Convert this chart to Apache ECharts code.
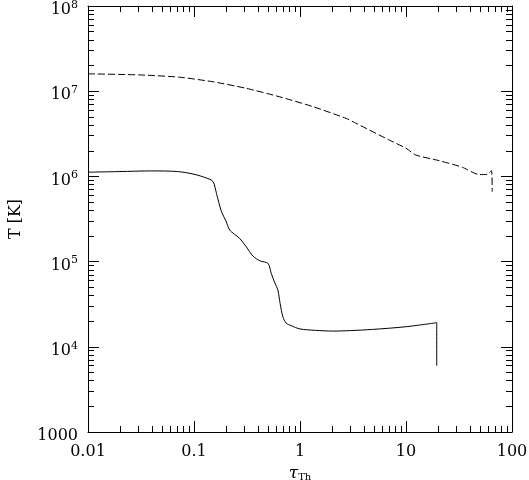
<!DOCTYPE html>
<html>
<head>
<meta charset="utf-8">
<script src="https://cdn.jsdelivr.net/npm/echarts@6/dist/echarts.min.js"></script>
<style>
  html, body { margin: 0; padding: 0; background: #fff; }
  #main { width: 529px; height: 480px; }
</style>
</head>
<body>
<div id="main"></div>
<script>
// lower curve (solid)
var solidTau = [0.01, 0.02, 0.04, 0.07, 0.1, 0.13, 0.151, 0.163, 0.181, 0.2, 0.217, 0.24, 0.27, 0.31, 0.36, 0.42, 0.5, 0.535, 0.58, 0.618, 0.65, 0.689, 0.74, 0.826, 1.0, 1.4, 2.04, 3, 4.84, 10, 19.5, 19.5];
var solidT = [1.12e6, 1.14e6, 1.16e6, 1.14e6, 1.06e6, 9.6e5, 8.7e5, 6.3e5, 3.9e5, 3.0e5, 2.35e5, 2.1e5, 1.87e5, 1.5e5, 1.16e5, 1.02e5, 9.5e4, 7.3e4, 5.6e4, 4.65e4, 3.2e4, 2.25e4, 1.9e4, 1.77e4, 1.62e4, 1.56e4, 1.53e4, 1.55e4, 1.6e4, 1.72e4, 1.92e4, 6000];
// upper curve (dashed)
var dashTau = [0.01, 0.032, 0.073, 0.151, 0.312, 0.641, 1.32, 2.72, 3.38, 6.95, 10, 12.4, 20.6, 34, 48.9, 58.6, 64, 65];
var dashT = [1.6e7, 1.55e7, 1.46e7, 1.29e7, 1.08e7, 8.6e6, 6.6e6, 4.8e6, 4.2e6, 2.67e6, 2.14e6, 1.78e6, 1.53e6, 1.28e6, 1.05e6, 1.06e6, 1.17e6, 6.6e5];

var xTickLabels = {0.01: '0.01', 0.1: '0.1', 1: '1', 10: '10', 100: '100'};
var yTickLabels = {1000: '1000', 1e4: '{b|10}{s|4}', 1e5: '{b|10}{s|5}', 1e6: '{b|10}{s|6}', 1e7: '{b|10}{s|7}', 1e8: '{b|10}{s|8}'};

function pairs(xs, ys) {
    var out = [];
    for (var i = 0; i < xs.length; i++) out.push([xs[i], ys[i]]);
    return out;
}
function findLabel(map, v) {
    for (var k in map) {
        if (Math.abs(Math.log10(v) - Math.log10(+k)) < 1e-6) return map[k];
    }
    return '';
}

var font = 'DejaVu Serif';
function majorTick() { return { show: true, inside: true, length: 11, lineStyle: { color: '#000', width: 1 } }; }
function minorTick() { return { show: true, splitNumber: 9, length: 6, lineStyle: { color: '#000', width: 1 } }; }
function axisLine() { return { show: true, onZero: false, lineStyle: { color: '#000', width: 1 } }; }

var chart = echarts.init(document.getElementById('main'));
var option = {
    animation: false,
    grid: { left: 88, right: 17, top: 6, bottom: 48, outerBoundsMode: 'none', containLabel: false },
    xAxis: [{
        type: 'log', min: 0.01, max: 100, logBase: 10, position: 'bottom',
        axisLine: axisLine(), axisTick: majorTick(), minorTick: minorTick(), splitLine: { show: false },
        axisLabel: { margin: 12, color: '#000', fontFamily: font, fontSize: 16,
            formatter: function (v) { return findLabel(xTickLabels, v); } },
        name: '{t|τ}{s|Th}', nameLocation: 'middle', nameGap: 29,
        nameTextStyle: { rich: {
            t: { fontFamily: font, fontSize: 17, fontStyle: 'italic', color: '#000' },
            s: { fontFamily: font, fontSize: 10, color: '#000', padding: [8, 0, 0, 0] } } }
    }, {
        type: 'log', min: 0.01, max: 100, logBase: 10, position: 'top',
        axisLine: axisLine(), axisTick: majorTick(), minorTick: minorTick(), splitLine: { show: false },
        axisLabel: { show: false }
    }],
    yAxis: [{
        type: 'log', min: 1000, max: 1e8, logBase: 10, position: 'left',
        axisLine: axisLine(), axisTick: majorTick(), minorTick: minorTick(), splitLine: { show: false },
        axisLabel: { margin: 10, padding: [8, 0, 0, 0], color: '#000', fontFamily: font, fontSize: 16,
            formatter: function (v) { return findLabel(yTickLabels, v); },
            rich: {
                b: { fontFamily: font, fontSize: 16, color: '#000' },
                s: { fontFamily: font, fontSize: 11, color: '#000', padding: [0, 0, 10, 0] } } },
        name: 'T [K]', nameLocation: 'middle', nameGap: 64, nameRotate: 90,
        nameTextStyle: { fontFamily: font, fontSize: 16, color: '#000' }
    }, {
        type: 'log', min: 1000, max: 1e8, logBase: 10, position: 'right',
        axisLine: axisLine(), axisTick: majorTick(), minorTick: minorTick(), splitLine: { show: false },
        axisLabel: { show: false }
    }],
    series: [{
        type: 'line', xAxisIndex: 0, yAxisIndex: 0, data: pairs(solidTau, solidT),
        symbol: 'none', smooth: 0.3, lineStyle: { color: '#000', width: 1 }
    }, {
        type: 'line', xAxisIndex: 0, yAxisIndex: 0, data: pairs(dashTau, dashT),
        symbol: 'none', smooth: 0.2, lineStyle: { color: '#000', width: 1, type: [7, 3] }
    }]
};
chart.setOption(option);
</script>
</body>
</html>
